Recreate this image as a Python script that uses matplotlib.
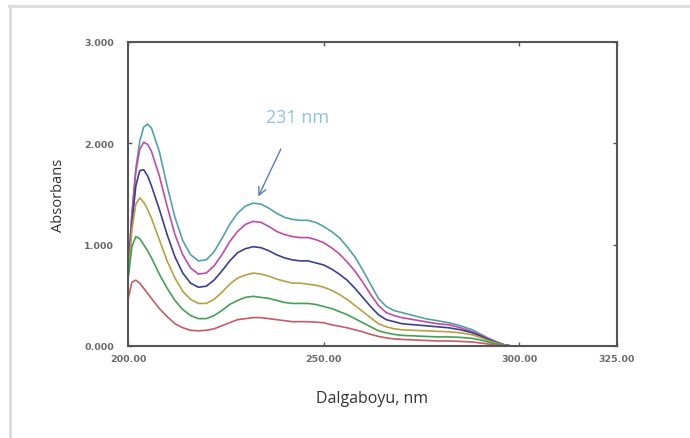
import matplotlib
matplotlib.use("Agg")
import matplotlib.pyplot as plt

# wavelength grid (nm)
wl = [200, 201, 202, 203, 204, 205, 206, 208, 210, 212, 214, 216, 218, 220,
      222, 224, 226, 228, 230, 232, 234, 236, 238, 240, 242, 244, 246, 248,
      250, 252, 254, 256, 258, 260, 262, 264, 266, 268, 270, 273, 276, 279,
      282, 285, 288, 290, 292, 294, 296, 298, 300, 325]

# absorbance of each solution, highest to lowest
abs_teal = [0.75, 1.30, 1.75, 2.02, 2.16, 2.19, 2.15, 1.92, 1.58, 1.27, 1.04, 0.90, 0.84, 0.85,
            0.93, 1.06, 1.20, 1.31, 1.38, 1.41, 1.40, 1.36, 1.31, 1.27, 1.25, 1.24, 1.24, 1.22,
            1.18, 1.13, 1.07, 0.98, 0.88, 0.75, 0.61, 0.47, 0.39, 0.35, 0.33, 0.30, 0.27, 0.25,
            0.23, 0.20, 0.16, 0.12, 0.08, 0.045, 0.015, 0.0, 0.0, 0.0]
abs_magenta = [0.72, 1.30, 1.72, 1.94, 2.01, 1.99, 1.92, 1.68, 1.38, 1.10, 0.90, 0.77, 0.71, 0.72,
               0.79, 0.90, 1.03, 1.13, 1.20, 1.23, 1.22, 1.18, 1.13, 1.10, 1.08, 1.07, 1.07, 1.05,
               1.02, 0.97, 0.91, 0.83, 0.74, 0.63, 0.51, 0.40, 0.33, 0.30, 0.28, 0.26, 0.24, 0.22,
               0.21, 0.18, 0.14, 0.11, 0.07, 0.04, 0.013, 0.0, 0.0, 0.0]
abs_blue = [0.70, 1.20, 1.58, 1.73, 1.74, 1.68, 1.58, 1.35, 1.10, 0.88, 0.72, 0.62, 0.58, 0.59,
            0.65, 0.74, 0.84, 0.92, 0.96, 0.98, 0.97, 0.94, 0.90, 0.87, 0.85, 0.84, 0.84, 0.82,
            0.80, 0.76, 0.71, 0.65, 0.57, 0.48, 0.39, 0.31, 0.26, 0.24, 0.22, 0.21, 0.20, 0.19,
            0.18, 0.16, 0.13, 0.10, 0.065, 0.035, 0.012, 0.0, 0.0, 0.0]
abs_olive = [0.68, 1.15, 1.40, 1.46, 1.42, 1.35, 1.26, 1.05, 0.84, 0.67, 0.54, 0.46, 0.42, 0.42,
             0.46, 0.53, 0.61, 0.67, 0.70, 0.72, 0.71, 0.69, 0.66, 0.64, 0.62, 0.62, 0.61, 0.60,
             0.58, 0.55, 0.51, 0.46, 0.40, 0.34, 0.28, 0.22, 0.19, 0.17, 0.16, 0.155, 0.15, 0.145,
             0.14, 0.13, 0.11, 0.085, 0.055, 0.03, 0.01, 0.0, 0.0, 0.0]
abs_green = [0.65, 0.98, 1.08, 1.06, 1.00, 0.94, 0.87, 0.71, 0.57, 0.45, 0.36, 0.30, 0.27, 0.27,
             0.30, 0.35, 0.41, 0.45, 0.48, 0.49, 0.48, 0.47, 0.45, 0.43, 0.42, 0.42, 0.42, 0.41,
             0.39, 0.37, 0.34, 0.31, 0.27, 0.23, 0.19, 0.15, 0.13, 0.115, 0.105, 0.10, 0.095, 0.09,
             0.09, 0.085, 0.075, 0.06, 0.04, 0.02, 0.008, 0.0, 0.0, 0.0]
abs_red = [0.46, 0.63, 0.65, 0.62, 0.57, 0.52, 0.47, 0.37, 0.29, 0.22, 0.18, 0.155, 0.15, 0.155,
           0.17, 0.20, 0.23, 0.26, 0.27, 0.28, 0.28, 0.27, 0.26, 0.25, 0.24, 0.24, 0.24, 0.235,
           0.23, 0.21, 0.195, 0.18, 0.16, 0.14, 0.115, 0.095, 0.08, 0.07, 0.065, 0.06, 0.055, 0.05,
           0.05, 0.045, 0.04, 0.03, 0.02, 0.01, 0.004, 0.0, 0.0, 0.0]

series = [abs_teal, abs_magenta, abs_blue, abs_olive, abs_green, abs_red]
colors = ['#4fa3a6', '#c04aa8', '#3c3f8f', '#b8a043', '#45a055', '#c65a68']

x_ticks = [200, 250, 300, 325]
x_labels = ['200.00', '250.00', '300.00', '325.00']
y_ticks = [0, 1, 2, 3]
y_labels = ['0.000', '1.000', '2.000', '3.000']

fig = plt.figure(figsize=(6.9, 4.39), dpi=100)
# light grey picture border (top and left only, like the screenshot)
fig.add_artist(plt.Line2D([9 / 690, 1], [1 - 7 / 439, 1 - 7 / 439], color='#dcdcdc', lw=2))
fig.add_artist(plt.Line2D([10 / 690, 10 / 690], [0, 1 - 7 / 439], color='#dcdcdc', lw=2))

ax = fig.add_axes([128 / 690, 92 / 439, 489 / 690, 304 / 439])

for vals, c in zip(series, colors):
    ax.plot(wl, vals, color=c, lw=1.2)

ax.set_xlim(200, 325)
ax.set_ylim(0, 3)
ax.set_xticks(x_ticks)
ax.set_xticklabels(x_labels)
ax.set_yticks(y_ticks)
ax.set_yticklabels(y_labels)
ax.tick_params(direction='in', length=3, width=1, color='#555555', top=True, right=True,
               labelsize=6.8, labelcolor='#6a6a6a')
ax.tick_params(axis='y', pad=10)
ax.tick_params(axis='x', pad=6)
for lab in ax.get_xticklabels() + ax.get_yticklabels():
    lab.set_fontweight('bold')
for sp in ax.spines.values():
    sp.set_color('#555555')
    sp.set_linewidth(1.5)

ax.set_ylabel('Absorbans', fontsize=10.5, family='Open Sans', color='#333333', labelpad=13)
ax.set_xlabel('Dalgaboyu, nm', fontsize=11.5, family='Open Sans', color='#333333', labelpad=19)

ax.annotate('', xy=(233.0, 1.45), xytext=(239.4, 1.97),
            arrowprops=dict(arrowstyle='->', color='#5a7fb8', lw=1, mutation_scale=14))
ax.text(243.3, 2.26, '231 nm', fontsize=13, family='Open Sans', color='#8ec4dc',
        ha='center', va='center')

fig.savefig('out.png', dpi=100)
